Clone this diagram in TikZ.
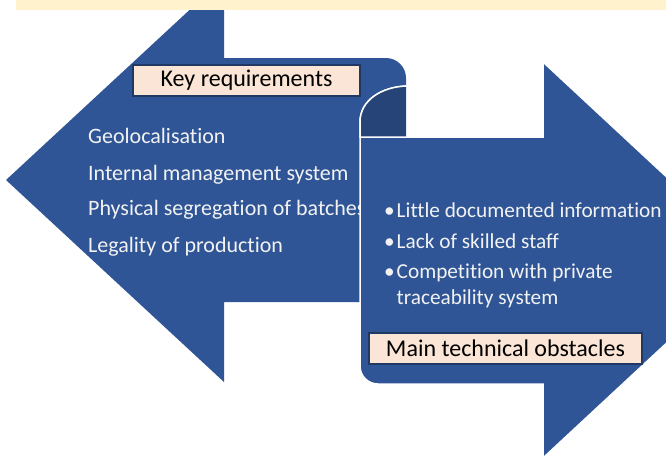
\documentclass[tikz,border=0pt]{standalone}
\usepackage{fontspec}
\setmainfont{Carlito}[Ligatures=NoCommon]
\usepackage{xcolor}
\usepackage{tikz}

\definecolor{arrowblue}{HTML}{2F5597}
\definecolor{curlblue}{HTML}{264478}
\definecolor{labelfill}{HTML}{FBE5D6}
\definecolor{labeldraw}{HTML}{1F3864}
\definecolor{bandyellow}{HTML}{FFF2CC}
\definecolor{listtext}{HTML}{F2F2F2}

\tikzset{
  labelbox/.style={draw=labeldraw, line width=2pt, fill=labelfill, text=black,
    minimum height=31pt, inner sep=0pt, font=\fontsize{24}{28}\selectfont},
  listitem/.style={anchor=base west, inner sep=0pt, text=listtext,
    font=\fontsize{22}{26}\selectfont},
  bulletitem/.style={listitem, font=\fontsize{21.3}{26}\selectfont},
}

\begin{document}
\begin{tikzpicture}[x=1pt,y=-1pt]
    \useasboundingbox (0,0) rectangle (666,461);
    \clip (0,0) rectangle (666,461);
    % left arrow
    \fill[arrowblue] (6,180) -- (224,-22) -- (224,58) -- (386,58)
      .. controls (397,58) and (406,67) .. (406,78) -- (406,302)
      -- (224,302) -- (224,382) -- cycle;
    \node[listitem] (geo) at (88,143) {Geolocalisation};
    \node[listitem] (ims) at (88,180) {Internal management system};
    \node[listitem] (seg) at (88,215) {Physical segregation of batches};
    \node[listitem] (leg) at (88,252) {Legality of production};
    \node[labelbox, minimum width=227pt] (keyreq) at (246.5,80) {Key requirements};
    % right arrow, with the curl on top
    \begin{scope}[line width=1.5pt]
      \path[fill=arrowblue, draw=white] (406,86) .. controls (382,87) and (360,100) .. (360,122)
        -- (360,366) .. controls (360,376) and (368,384) .. (378,384)
        -- (543,384) -- (543,458) -- (756,260) -- (543,62) -- (543,137)
        -- (406,137) -- cycle;
      \path[fill=curlblue, draw=white] (406,86) .. controls (382,87) and (360,100) .. (360,122)
        -- (360,137) -- (406,137);
    \end{scope}
    \node[bulletitem] (info) at (384,217) {\makebox[12.5pt][l]{\textbullet}Little documented information};
    \node[bulletitem] (staff) at (384,248) {\makebox[12.5pt][l]{\textbullet}Lack of skilled staff};
    \node[bulletitem] (comp) at (384,278) {\makebox[12.5pt][l]{\textbullet}Competition with private};
    \node[bulletitem] (trace) at (396.5,304) {traceability system};
    \node[labelbox, minimum width=273pt] (obst) at (505.5,348.5) {Main technical obstacles};
    % band at the top
    \fill[bandyellow] (16,0) rectangle (666,9.5);
\end{tikzpicture}
\end{document}
